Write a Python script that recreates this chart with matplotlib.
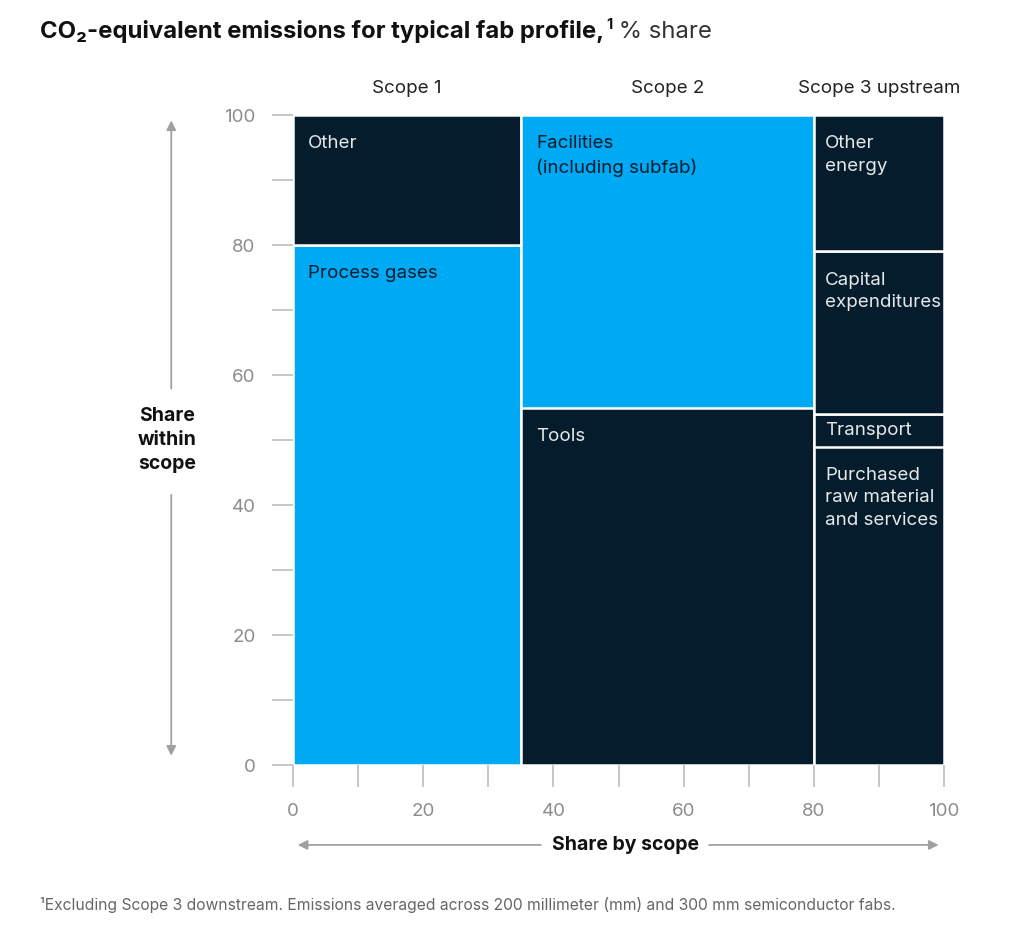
import matplotlib
matplotlib.use("Agg")
import matplotlib.pyplot as plt
import numpy as np

plt.rcParams['font.family'] = ['Inter', 'DejaVu Sans']

# data
scopes = ["Scope 1", "Scope 2", "Scope 3 upstream"]
scope_share = [35, 45, 20]
segment_labels = [
    ["Process gases", "Other"],
    ["Tools", "Facilities\n(including subfab)"],
    ["Purchased\nraw material\nand services", "Transport", "Capital\nexpenditures", "Other\nenergy"],
]
segment_values = [
    [80, 20],
    [55, 45],
    [49, 5, 25, 21],
]
x_ticks = [0, 20, 40, 60, 80, 100]
y_ticks = [0, 20, 40, 60, 80, 100]

BLUE = "#00A9F4"
NAVY = "#051C2C"
segment_colors = [
    [BLUE, NAVY],
    [NAVY, BLUE],
    [NAVY, NAVY, NAVY, NAVY],
]
GRAY = "#8C8C8C"

fig = plt.figure(figsize=(10.24, 9.46), dpi=100)
ax = fig.add_axes([293 / 1024, 1 - 765 / 946, 651 / 1024, 650 / 946])

left = 0
for i, scope in enumerate(scopes):
    w = scope_share[i]
    pad_x = 8 if w < 30 else 11
    bottom = 0
    for lab, val, col in zip(segment_labels[i], segment_values[i], segment_colors[i]):
        ax.bar(left, val, width=w, bottom=bottom, align='edge', color=col,
               edgecolor='white', linewidth=1.8)
        tcol = NAVY if col == BLUE else "#E6E8EA"
        if val < 8:
            ax.annotate(lab, xy=(left, bottom + val / 2), xytext=(pad_x, 0),
                        textcoords='offset points', color=tcol, fontsize=13.5,
                        va='center', ha='left')
        else:
            ax.annotate(lab, xy=(left, bottom + val), xytext=(pad_x, -14.5),
                        textcoords='offset points', color=tcol, fontsize=13.5,
                        va='top', ha='left', linespacing=1.45)
        bottom += val
    ax.text(left + w / 2, 104.1, scope, ha='center', va='center',
            fontsize=13.5, color="#222222")
    left += w

ax.set_xlim(0, 100)
ax.set_ylim(0, 100)
for s in ax.spines.values():
    s.set_visible(False)
ax.set_xticks(x_ticks)
ax.set_yticks(y_ticks)
ax.set_xticks(np.arange(10, 100, 20), minor=True)
ax.set_yticks(np.arange(10, 100, 20), minor=True)
ax.tick_params(which='both', direction='out', color="#BDBDBD", width=1.2)
ax.tick_params(axis='y', which='both', length=15, pad=12, labelsize=13.5, labelcolor=GRAY)
ax.tick_params(axis='x', which='both', length=16, pad=11, labelsize=13.5, labelcolor=GRAY)

# vertical axis arrow + label
ty = ax.get_yaxis_transform()
arrow = dict(arrowstyle='-|>', color="#A0A0A0", lw=1.3, mutation_scale=14)
ax.annotate('', xy=(-0.187, 99.6), xytext=(-0.187, 57.5), xycoords=ty, textcoords=ty,
            arrowprops=arrow, annotation_clip=False)
ax.annotate('', xy=(-0.187, 1.0), xytext=(-0.187, 42.0), xycoords=ty, textcoords=ty,
            arrowprops=arrow, annotation_clip=False)
ax.text(-0.193, 50.0, "Share\nwithin\nscope", transform=ty, ha='center', va='center',
        fontsize=14, fontweight='bold', color="#111111", linespacing=1.45)

# horizontal axis arrow + label
tx = ax.get_xaxis_transform()
ax.annotate('', xy=(0.3, -0.123), xytext=(38.5, -0.123), xycoords=tx, textcoords=tx,
            arrowprops=arrow, annotation_clip=False)
ax.annotate('', xy=(99.6, -0.123), xytext=(63.5, -0.123), xycoords=tx, textcoords=tx,
            arrowprops=arrow, annotation_clip=False)
ax.text(51, -0.123, "Share by scope", transform=tx, ha='center', va='center',
        fontsize=14, fontweight='bold', color="#111111")

# title built from pieces
renderer = fig.canvas.get_renderer()
x0 = 40 / 1024
ty_fig = 1 - 38 / 946
t1 = fig.text(x0, ty_fig, "CO₂-equivalent emissions for typical fab profile,", fontsize=17.2,
              fontweight='bold', color="#111111", va='baseline')
bb = t1.get_window_extent(renderer)
x1 = bb.x1 / fig.bbox.width
t2 = fig.text(x1 + 0.002, ty_fig + 0.010, "1", fontsize=10.5, fontweight='bold',
              color="#111111", va='baseline')
bb2 = t2.get_window_extent(renderer)
x2 = bb2.x1 / fig.bbox.width
fig.text(x2, ty_fig, " % share", fontsize=17.2, color="#333333", va='baseline')

# footnote
fig.text(40 / 1024, 1 - 905 / 946,
         "¹Excluding Scope 3 downstream. Emissions averaged across 200 millimeter (mm) and 300 mm semiconductor fabs.",
         fontsize=11.25, color="#666666", va='center')

fig.savefig("out.png", dpi=100)
